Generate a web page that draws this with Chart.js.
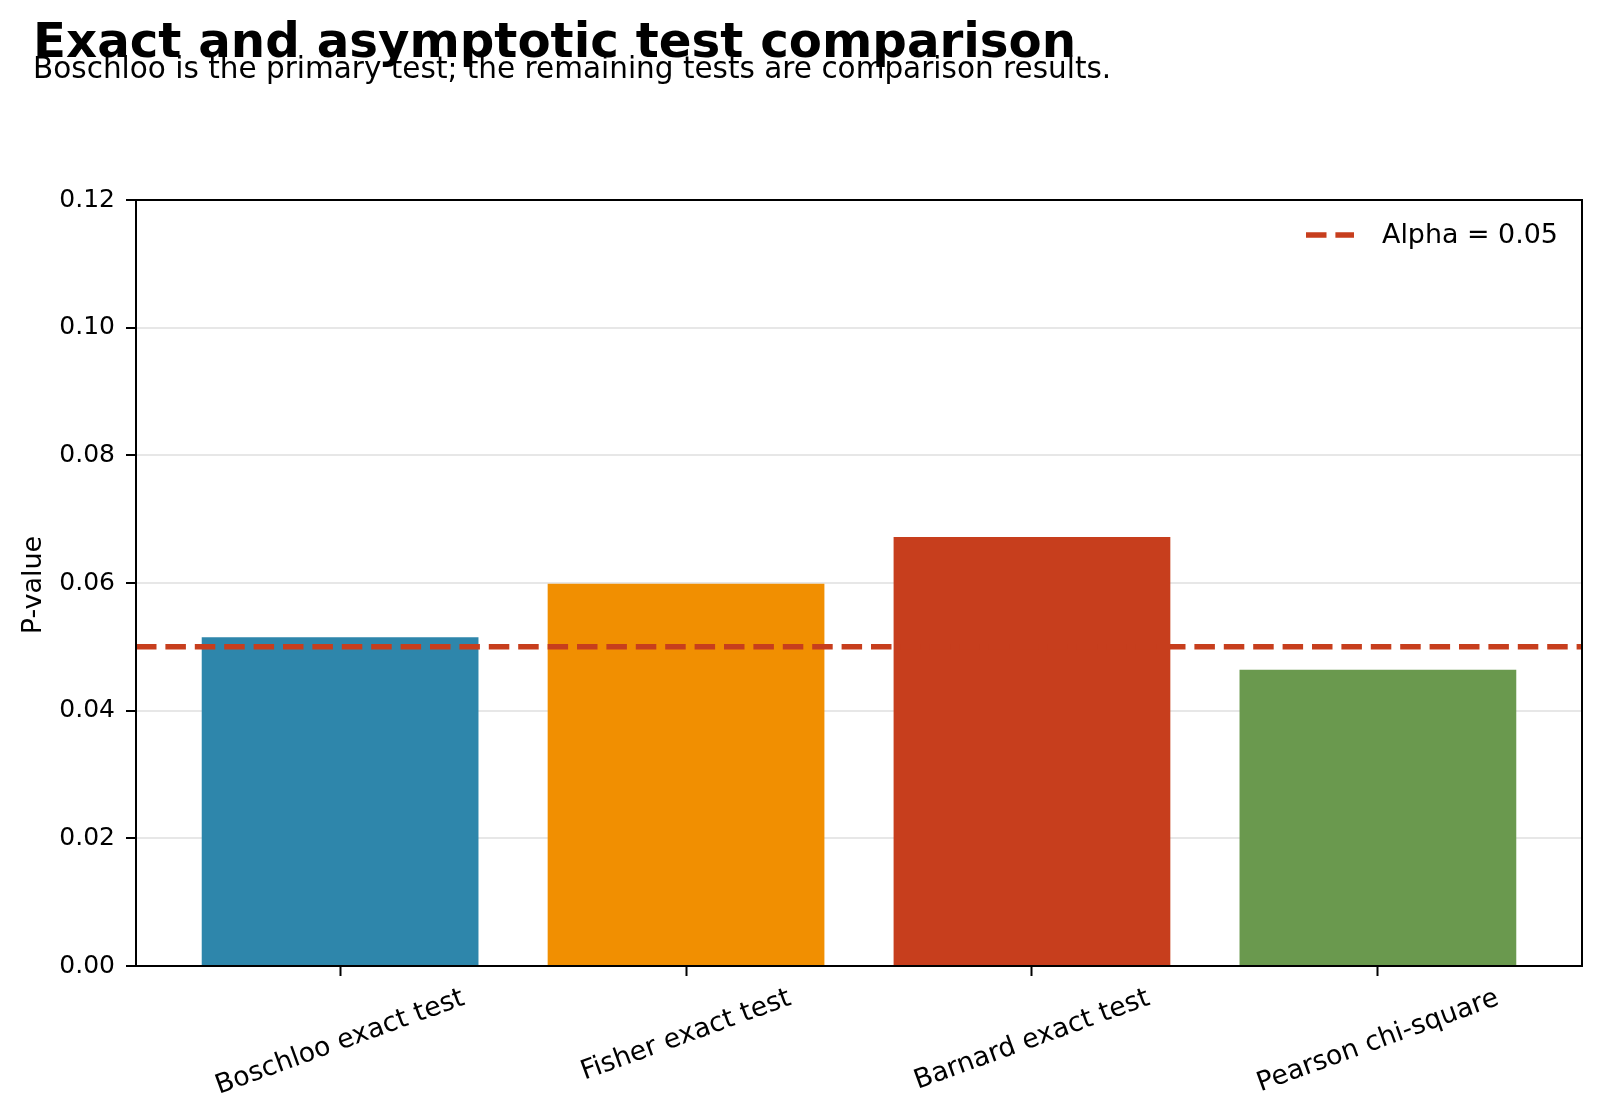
<!DOCTYPE html>
<html>
<head>
<meta charset="utf-8">
<script src="https://cdn.jsdelivr.net/npm/chart.js@4.4.1/dist/chart.umd.min.js"></script>
<style>
  body { margin: 0; background: #fff; }
  #wrap { width: 1600px; height: 1119px; }
</style>
</head>
<body>
<div id="wrap"><canvas id="myCanvas"></canvas></div>
<script>
let tests = ["Boschloo exact test", "Fisher exact test", "Barnard exact test", "Pearson chi-square"]
let pValues = [0.0515, 0.0599, 0.0672, 0.0464]
let colors = ["#2E86AB", "#F18F01", "#C73E1D", "#6A994E"]
let alpha = 0.05
let yTicks = [0, 0.02, 0.04, 0.06, 0.08, 0.10, 0.12]

const FONT = "'DejaVu Sans', sans-serif"
const X_MIN = -0.59, X_MAX = 3.59

// titles, axis label, x labels, legend and the frame
const decorations = {
    id: "decorations",
    afterDraw(chart) {
        const ctx = chart.ctx
        const area = chart.chartArea
        const xs = chart.scales.x
        ctx.save()

        ctx.strokeStyle = "#000"
        ctx.lineWidth = 2
        ctx.strokeRect(area.left, area.top, area.right - area.left, area.bottom - area.top)

        ctx.fillStyle = "#000"
        ctx.textAlign = "left"
        ctx.textBaseline = "alphabetic"
        ctx.font = "bold 48.3px " + FONT
        ctx.fillText("Exact and asymptotic test comparison", 33, 57)
        ctx.font = "29.5px " + FONT
        ctx.fillText("Boschloo is the primary test; the remaining tests are comparison results.", 33, 78)

        // y axis title
        ctx.font = "27px " + FONT
        ctx.save()
        ctx.translate(34, (area.top + area.bottom) / 2 + 2)
        ctx.rotate(-Math.PI / 2)
        ctx.textAlign = "center"
        ctx.textBaseline = "middle"
        ctx.fillText("P-value", 0, 0)
        ctx.restore()

        // rotated category labels, centred under each tick
        const ang = 20 * Math.PI / 180
        ctx.font = "26.8px " + FONT
        tests.forEach((t, i) => {
            const w = ctx.measureText(t).width
            const h = 26.8 * 1.16
            const bh = w * Math.sin(ang) + h * Math.cos(ang)
            const cx = xs.getPixelForValue(i)
            const cy = area.bottom + 10 + 7 + bh / 2
            ctx.save()
            ctx.translate(cx, cy)
            ctx.rotate(-ang)
            ctx.textAlign = "center"
            ctx.textBaseline = "middle"
            ctx.fillText(t, 0, 0)
            ctx.restore()
        })

        // legend
        const ly = area.top + 35
        ctx.strokeStyle = colors[2]
        ctx.lineWidth = 5.5
        ctx.setLineDash([20.5, 8.9])
        ctx.beginPath()
        ctx.moveTo(area.right - 276, ly)
        ctx.lineTo(area.right - 228, ly)
        ctx.stroke()
        ctx.setLineDash([])
        ctx.font = "26.9px " + FONT
        ctx.textAlign = "left"
        ctx.textBaseline = "middle"
        ctx.fillText("Alpha = " + alpha.toFixed(2), area.right - 200, ly + 1)

        ctx.restore()
    }
}

new Chart("myCanvas", {
    type: "bar",
    data: {
        datasets: [
            {
                type: "bar",
                data: pValues.map((v, i) => ({ x: i, y: v })),
                backgroundColor: colors,
                barPercentage: 0.8,
                categoryPercentage: 1,
                order: 2
            },
            {
                type: "line",
                data: [{ x: X_MIN, y: alpha }, { x: X_MAX, y: alpha }],
                borderColor: colors[2],
                borderWidth: 5.5,
                borderDash: [20.5, 8.9],
                pointRadius: 0,
                order: 1
            }
        ]
    },
    options: {
        responsive: true,
        maintainAspectRatio: false,
        devicePixelRatio: 1,
        animation: false,
        layout: { padding: { top: 200, right: 18, left: 0, bottom: 0 } },
        plugins: {
            legend: { display: false },
            tooltip: { enabled: false }
        },
        scales: {
            x: {
                type: "linear",
                min: X_MIN,
                max: X_MAX,
                offset: false,
                z: 1,
                afterBuildTicks: (scale) => { scale.ticks = tests.map((_, i) => ({ value: i })) },
                afterFit: (scale) => { scale.height = 153 },
                ticks: { display: false },
                grid: { offset: false, drawOnChartArea: false, tickColor: "#000", tickLength: 10, tickWidth: 2 },
                border: { display: false }
            },
            y: {
                min: 0,
                max: 0.12,
                z: 1,
                afterBuildTicks: (scale) => { scale.ticks = yTicks.map(v => ({ value: v })) },
                afterFit: (scale) => { scale.width = 136 },
                ticks: {
                    color: "#000",
                    padding: 11,
                    font: { family: FONT, size: 25 },
                    callback: (v) => v.toFixed(2)
                },
                grid: {
                    color: "rgba(170,170,170,0.28)",
                    lineWidth: 2,
                    tickColor: "#000",
                    tickLength: 10,
                    tickWidth: 2
                },
                border: { display: false }
            }
        }
    },
    plugins: [decorations]
})
</script>
</body>
</html>
